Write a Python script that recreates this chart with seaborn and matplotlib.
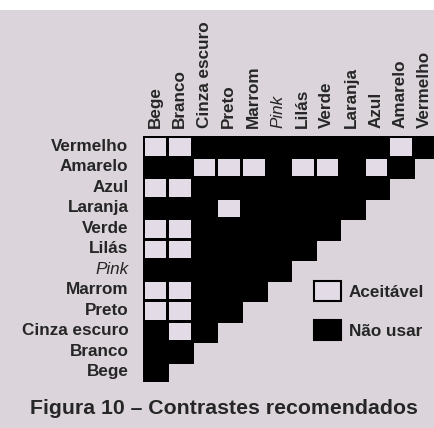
import numpy as np
import pandas as pd
import seaborn as sns
import matplotlib.pyplot as plt
from matplotlib.colors import ListedColormap
from matplotlib.patches import Patch, Rectangle


# columns (top labels) and rows (left labels)
cores_x = ['Bege', 'Branco', 'Cinza escuro', 'Preto', 'Marrom', 'Pink',
           'Lilás', 'Verde', 'Laranja', 'Azul', 'Amarelo', 'Vermelho']
cores_y = ['Vermelho', 'Amarelo', 'Azul', 'Laranja', 'Verde', 'Lilás',
           'Pink', 'Marrom', 'Preto', 'Cinza escuro', 'Branco', 'Bege']

# 0 = aceitável, 1 = não usar (each row only goes up to its own triangle edge)
contraste = [
    [0, 0, 1, 1, 1, 1, 1, 1, 1, 1, 0, 1],  # Vermelho
    [1, 1, 0, 0, 0, 1, 0, 0, 1, 0, 1],     # Amarelo
    [0, 0, 1, 1, 1, 1, 1, 1, 1, 1],        # Azul
    [1, 1, 1, 0, 1, 1, 1, 1, 1],           # Laranja
    [0, 0, 1, 1, 1, 1, 1, 1],              # Verde
    [0, 0, 1, 1, 1, 1, 1],                 # Lilás
    [1, 1, 1, 1, 1, 1],                    # Pink
    [0, 0, 1, 1, 1],                       # Marrom
    [0, 0, 1, 1],                          # Preto
    [1, 0, 1],                             # Cinza escuro
    [1, 1],                                # Branco
    [1],                                   # Bege
]

legenda = ['Aceitável', 'Não usar']

bg = '#dbd5db'
claro = '#e3dce6'

# pad the triangle with NaN so seaborn masks the empty half
grid = np.full((len(cores_y), len(cores_x)), np.nan)
for i, linha in enumerate(contraste):
    grid[i, :len(linha)] = linha
df = pd.DataFrame(grid, index=cores_y, columns=cores_x)

sns.set_style('white')
plt.rcParams['font.family'] = ['Liberation Sans', 'DejaVu Sans']

fig = plt.figure(figsize=(4.35, 4.28), dpi=100, facecolor=bg)
fig.add_artist(Rectangle((0, 1 - 10 / 428), 1, 10 / 428, transform=fig.transFigure,
                         facecolor='white', edgecolor='none', zorder=0))
ax = fig.add_axes([143 / 435, 1 - 382 / 428, 294 / 435, 246 / 428])
ax.set_facecolor('none')

sns.heatmap(df, ax=ax, cmap=ListedColormap([claro, 'black']), vmin=0, vmax=1,
            cbar=False, linewidths=2.0, linecolor='black', square=False)

# no grid lines on the empty half of the triangle
mesh = ax.collections[0]
vazio = np.isnan(grid).ravel()
ec = np.zeros((vazio.size, 4))
ec[~vazio, 3] = 1.0
mesh.set_edgecolors(ec)

ax.xaxis.tick_top()
ax.set_xticklabels(cores_x, rotation=90, fontsize=12.3, fontweight='bold')
ax.set_yticklabels(cores_y, rotation=0, fontsize=12.3, fontweight='bold')
ax.tick_params(axis='x', length=0, pad=5.5)
ax.tick_params(axis='y', length=0, pad=10.5)
for lbl in ax.get_xticklabels() + ax.get_yticklabels():
    if lbl.get_text() == 'Pink':
        lbl.set_fontstyle('italic')
        lbl.set_fontweight('normal')
ax.set_xlabel('')
ax.set_ylabel('')
for s in ax.spines.values():
    s.set_visible(False)

handles = [Patch(facecolor=claro, edgecolor='black', linewidth=1.5),
           Patch(facecolor='black', edgecolor='black', linewidth=1.5)]
fig.legend(handles, legenda, loc='upper left',
           bbox_to_anchor=(314 / 435, 1 - 281 / 428), frameon=False,
           prop={'size': 12.3, 'weight': 'bold'}, handlelength=1.6,
           handleheight=1.4, labelspacing=1.15, handletextpad=0.45,
           borderpad=0, borderaxespad=0)

fig.text(224 / 435, 1 - 408 / 428, 'Figura 10 – Contrastes recomendados',
         ha='center', va='center', fontsize=15.3, fontweight='bold')

fig.savefig('out.png', dpi=100, facecolor=bg)
